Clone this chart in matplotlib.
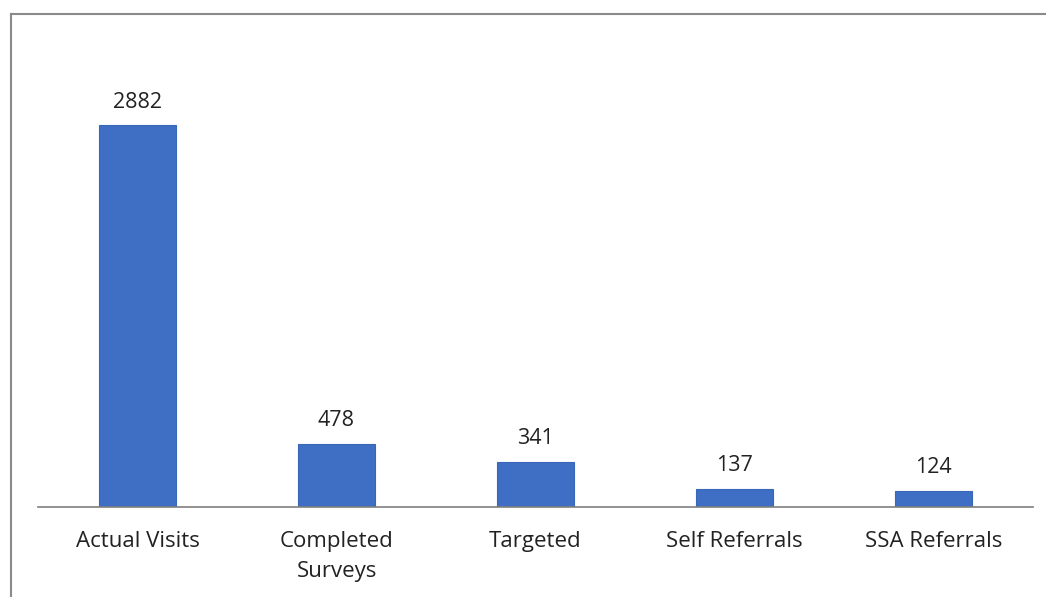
import matplotlib.pyplot as plt
from matplotlib.lines import Line2D

categories = ["Actual Visits", "Completed\nSurveys", "Targeted", "Self Referrals", "SSA Referrals"]
values = [2882, 478, 341, 137, 124]

plt.rcParams['font.family'] = ['Open Sans', 'DejaVu Sans']

fig = plt.figure(figsize=(10.46, 5.97), dpi=100)
W, H = 1046, 597
ax = fig.add_axes([38 / W, 1 - 507 / H, 995 / W, 424 / H])

x = range(len(categories))
bars = ax.bar(x, values, width=0.39, color="#3F6FC4", edgecolor="#3A66B8", linewidth=0.8)
for b, v in zip(bars, values):
    ax.annotate(str(v), (b.get_x() + b.get_width() / 2, v), xytext=(0, 9),
                textcoords="offset points", ha="center", va="bottom",
                fontsize=15.5, color="#222222")

ax.set_xlim(-0.5, 4.5)
ax.set_ylim(0, 3200)
ax.set_xticks(list(x))
ax.set_xticklabels(categories, fontsize=16, color="#222222", linespacing=1.6)
ax.tick_params(axis="x", length=0, pad=17)
ax.set_yticks([])
for s in ["top", "right", "left"]:
    ax.spines[s].set_visible(False)
ax.spines["bottom"].set_color("#7f7f7f")
ax.spines["bottom"].set_linewidth(1.2)

# outer chart frame
fig.add_artist(Line2D([11 / W, 11 / W], [0, 1 - 14 / H], color="#8a8a8a", lw=1.5))
fig.add_artist(Line2D([11 / W, 1], [1 - 14 / H, 1 - 14 / H], color="#8a8a8a", lw=1.5))

fig.savefig("out.png", dpi=100)
